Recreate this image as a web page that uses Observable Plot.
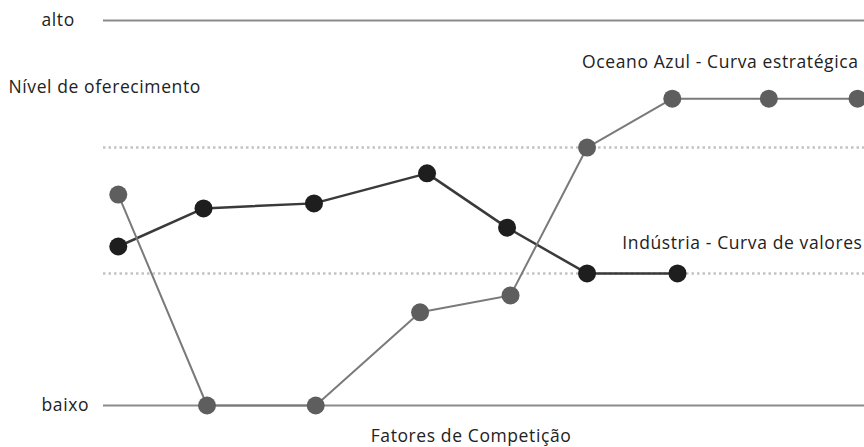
<!DOCTYPE html>
<html>
<head>
<meta charset="utf-8">
<script src="https://cdn.jsdelivr.net/npm/d3@7"></script>
<script src="https://cdn.jsdelivr.net/npm/@observablehq/plot@0.6"></script>
<style>
  html, body { margin: 0; padding: 0; background: #fff; }
  #chart svg { display: block; }
  #chart svg text { letter-spacing: 0.6px; }
</style>
</head>
<body>
<div id="chart"></div>
<script>
// Competition factor positions (fractional) and offering levels (0 = baixo, 10 = alto)
const industriaX = [0, 0.98, 2.25, 3.55, 4.47, 5.39, 6.43];
const industriaY = [4.13, 5.12, 5.25, 6.03, 4.62, 3.43, 3.43];
const oceanoX = [0, 1.02, 2.27, 3.47, 4.51, 5.39, 6.37, 7.48, 8.5];
const oceanoY = [5.48, 0, 0, 2.42, 2.86, 6.7, 7.97, 7.97, 7.97];
const referenceLevels = [3.43, 6.7];
const extremeLabels = ["baixo", "alto"];
const extremeLevels = [0, 10];
const axisTitleY = "Nível de oferecimento";
const axisTitleX = "Fatores de Competição";
const oceanoLabel = "Oceano Azul - Curva estratégica";
const industriaLabel = "Indústria - Curva de valores";

const industria = industriaX.map((x, i) => ({x, y: industriaY[i]}));
const oceano = oceanoX.map((x, i) => ({x, y: oceanoY[i]}));
const extremes = extremeLabels.map((label, i) => ({label, y: extremeLevels[i]}));

const font = "'Open Sans', sans-serif";
const fs = 17.5;

const chart = Plot.plot({
  width: 864,
  height: 447,
  marginLeft: 103,
  marginRight: 0,
  marginTop: 20,
  marginBottom: 42,
  x: {domain: [-0.17, 8.58], axis: null},
  y: {domain: [0, 10], axis: null},
  style: {fontFamily: font, fontSize: fs + "px", color: "#222", background: "#fff"},
  marks: [
    Plot.ruleY(referenceLevels, {stroke: "#c4c4c4", strokeWidth: 2.5, strokeDasharray: "2.5,3"}),
    Plot.ruleY(extremeLevels, {stroke: "#8a8a8a", strokeWidth: 2}),
    Plot.text(extremes, {y: "y", text: "label", frameAnchor: "left", textAnchor: "start", dx: -62, fill: "#222", fontSize: fs}),
    Plot.text([axisTitleY], {y: 8.26, text: d => d, frameAnchor: "left", textAnchor: "start", dx: -95, fill: "#222", fontSize: fs}),
    Plot.text([oceanoLabel], {y: 8.91, text: d => d, frameAnchor: "right", textAnchor: "end", dx: -6, fill: "#222", fontSize: fs}),
    Plot.text([industriaLabel], {y: 4.21, text: d => d, frameAnchor: "right", textAnchor: "end", dx: -2, fill: "#222", fontSize: fs}),
    Plot.text([axisTitleX], {text: d => d, frameAnchor: "bottom", dy: 36, dx: -13, fill: "#222", fontSize: fs}),
    Plot.line(industria, {x: "x", y: "y", stroke: "#3a3a3a", strokeWidth: 2.5}),
    Plot.line(oceano, {x: "x", y: "y", stroke: "#7a7a7a", strokeWidth: 2}),
    Plot.dot(industria, {x: "x", y: "y", r: 9, fill: "#1e1e1e", stroke: null}),
    Plot.dot(oceano, {x: "x", y: "y", r: 9, fill: "#5e5e5e", stroke: null})
  ]
});
document.getElementById("chart").append(chart);
</script>
</body>
</html>
